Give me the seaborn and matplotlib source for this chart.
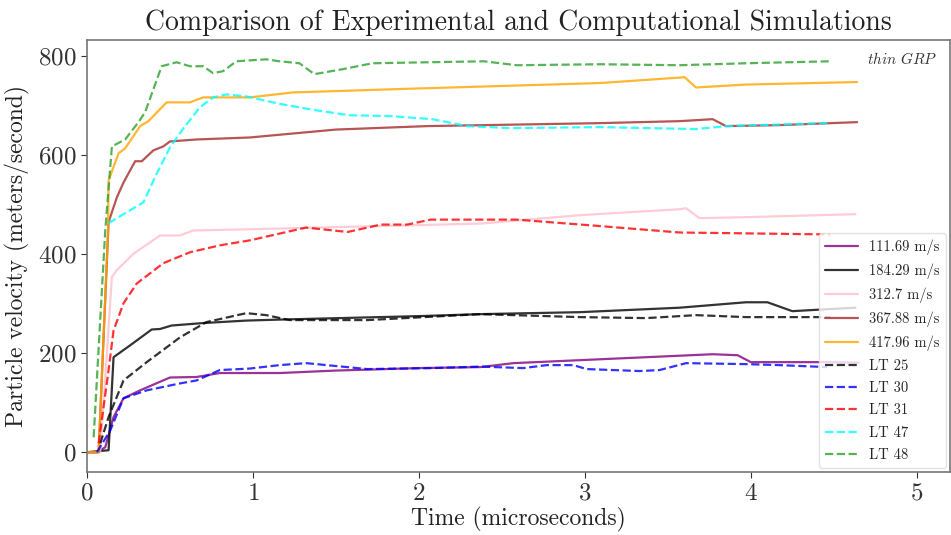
import matplotlib
matplotlib.use("Agg")
import matplotlib.pyplot as plt
import seaborn as sns
import numpy as np

# ---- data (time in microseconds, velocity in m/s) ----
t_111 = [0.0, 0.06, 0.11, 0.16, 0.22, 0.32, 0.50, 0.66, 0.80, 1.16, 1.5, 2.0, 2.37, 2.57, 2.97, 3.37, 3.77, 3.92, 4.00, 4.17, 4.46, 4.65]
v_111 = [0, 0, 10, 71, 109, 125, 151, 152, 160, 160, 165, 170, 172, 180, 186, 192, 198, 196, 182, 182, 182, 181]

t_184 = [0.0, 0.13, 0.16, 0.26, 0.39, 0.44, 0.51, 0.70, 0.96, 1.16, 2.0, 2.37, 2.97, 3.57, 3.97, 4.10, 4.25, 4.46, 4.63]
v_184 = [0, 4, 192, 216, 248, 249, 256, 261, 266, 268, 275, 279, 283, 292, 303, 303, 285, 289, 292]

t_312 = [0.0, 0.08, 0.12, 0.15, 0.18, 0.28, 0.44, 0.56, 0.64, 1.16, 2.37, 2.97, 3.57, 3.61, 3.69, 3.97, 4.63]
v_312 = [0, 0, 200, 354, 368, 401, 438, 438, 448, 452, 462, 479, 491, 493, 473, 475, 481]

t_367 = [0.0, 0.07, 0.13, 0.18, 0.22, 0.29, 0.33, 0.40, 0.46, 0.50, 0.66, 0.98, 1.50, 2.05, 3.09, 3.57, 3.77, 3.85, 4.17, 4.64]
v_367 = [0, 0, 465, 515, 545, 588, 588, 610, 618, 628, 632, 636, 652, 659, 665, 669, 673, 659, 661, 667]

t_417 = [0.0, 0.07, 0.127, 0.13, 0.19, 0.23, 0.32, 0.37, 0.48, 0.62, 0.70, 0.98, 1.24, 1.99, 3.09, 3.57, 3.60, 3.67, 3.97, 4.64]
v_417 = [0, 0, 448, 549, 604, 614, 659, 669, 707, 707, 717, 717, 727, 735, 746, 757, 758, 737, 743, 748]

t_lt25 = [0.08, 0.13, 0.22, 0.36, 0.56, 0.72, 0.96, 1.08, 1.22, 1.69, 2.37, 2.97, 3.37, 3.67, 3.97, 4.48]
v_lt25 = [18, 71, 145, 182, 232, 263, 281, 277, 267, 267, 279, 273, 271, 277, 273, 273]

t_lt30 = [0.06, 0.14, 0.22, 0.36, 0.56, 0.66, 0.80, 0.98, 1.16, 1.32, 1.69, 2.08, 2.37, 2.63, 2.77, 2.93, 3.01, 3.33, 3.45, 3.61, 3.97, 4.17, 4.46]
v_lt30 = [0, 44, 109, 125, 139, 145, 166, 169, 176, 180, 168, 170, 173, 170, 176, 176, 168, 164, 166, 180, 178, 176, 172]

t_lt31 = [0.07, 0.13, 0.16, 0.22, 0.30, 0.46, 0.62, 0.80, 0.98, 1.32, 1.57, 1.77, 1.93, 2.07, 2.59, 3.09, 3.57, 4.48]
v_lt31 = [18, 166, 246, 301, 341, 382, 404, 418, 428, 454, 445, 460, 460, 470, 470, 457, 444, 440]

t_lt47 = [0.13, 0.34, 0.42, 0.50, 0.58, 0.68, 0.76, 0.84, 0.96, 1.16, 1.38, 1.58, 1.84, 2.08, 2.29, 2.55, 3.09, 3.67, 3.85, 4.46]
v_lt47 = [463, 505, 563, 616, 654, 697, 717, 723, 719, 704, 691, 681, 679, 673, 659, 655, 657, 653, 659, 665]

t_lt48 = [0.04, 0.11, 0.15, 0.23, 0.31, 0.35, 0.45, 0.54, 0.62, 0.70, 0.76, 0.82, 0.90, 1.08, 1.16, 1.28, 1.37, 1.54, 1.72, 2.39, 2.59, 3.09, 3.57, 3.97, 4.48]
v_lt48 = [30, 448, 618, 632, 667, 687, 780, 788, 780, 780, 766, 770, 790, 794, 790, 786, 764, 774, 786, 790, 782, 784, 782, 786, 790]

labels = ["111.69 m/s", "184.29 m/s", "312.7 m/s", "367.88 m/s", "417.96 m/s",
          "LT 25", "LT 30", "LT 31", "LT 47", "LT 48"]
series_t = [t_111, t_184, t_312, t_367, t_417, t_lt25, t_lt30, t_lt31, t_lt47, t_lt48]
series_v = [v_111, v_184, v_312, v_367, v_417, v_lt25, v_lt30, v_lt31, v_lt47, v_lt48]
colors = ["purple", "black", "pink", "brown", "orange",
          "black", "blue", "red", "cyan", "tab:green"]
styles = ["-"] * 5 + ["--"] * 5

sns.set_style("ticks")
plt.rcParams["font.family"] = ["cmr10", "DejaVu Serif"]
plt.rcParams["mathtext.fontset"] = "cm"
plt.rcParams["axes.unicode_minus"] = False
plt.rcParams["axes.formatter.use_mathtext"] = True

fig = plt.figure(figsize=(9.51, 5.35), dpi=100)
ax = fig.add_axes([87 / 951, 63 / 535, 863 / 951, 432 / 535])

for t, v, c, s, lab in zip(series_t, series_v, colors, styles, labels):
    sns.lineplot(x=t, y=v, ax=ax, color=c, linestyle=s, label=lab,
                 linewidth=1.6, alpha=0.8, sort=False, estimator=None)

ax.set_xlim(0, 5.2)
ax.set_ylim(-40, 833)
ax.set_xticks([0, 1, 2, 3, 4, 5])
ax.set_yticks([0, 200, 400, 600, 800])
ax.tick_params(labelsize=18, colors="#333333", length=4, width=0.8)
for sp in ax.spines.values():
    sp.set_color("#777777")
    sp.set_linewidth(1.2)

ax.set_title("Comparison of Experimental and Computational Simulations",
             fontsize=20, color="#222222", pad=7)
ax.set_xlabel("Time (microseconds)", fontsize=17, color="#222222", labelpad=2)
ax.set_ylabel("Particle velocity (meters/second)", fontsize=17, color="#222222", labelpad=6)

ax.text(0.985, 0.955, r"$\it{thin\ GRP}$", transform=ax.transAxes,
        ha="right", va="center", fontsize=11, color="#333333")

leg = ax.legend(loc="lower right", fontsize=10.5, frameon=True,
                borderaxespad=0.25, handlelength=2.2, labelspacing=0.58,
                borderpad=0.45)
leg.get_frame().set_edgecolor("#dddddd")

fig.savefig("out.png", dpi=100)
